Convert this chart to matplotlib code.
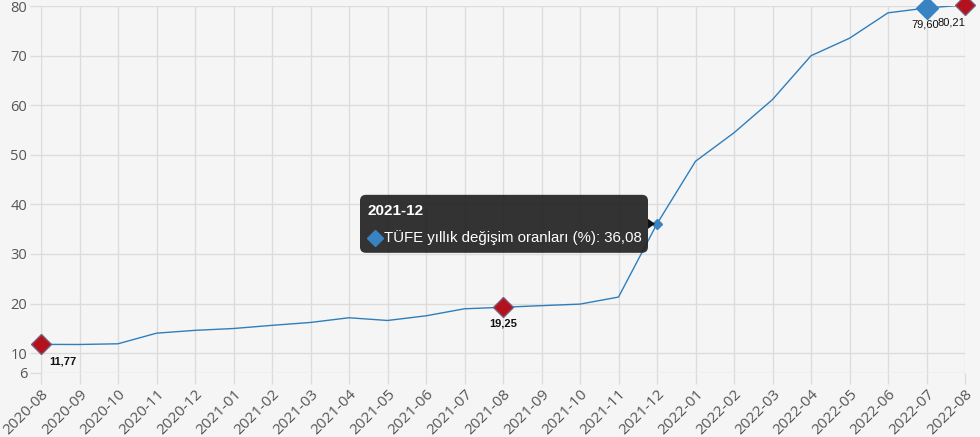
import matplotlib
matplotlib.use("Agg")
import matplotlib.pyplot as plt
import matplotlib.transforms as mtransforms
from matplotlib.patches import FancyBboxPatch, Polygon
import numpy as np

months = ["2020-08", "2020-09", "2020-10", "2020-11", "2020-12",
          "2021-01", "2021-02", "2021-03", "2021-04", "2021-05", "2021-06",
          "2021-07", "2021-08", "2021-09", "2021-10", "2021-11", "2021-12",
          "2022-01", "2022-02", "2022-03", "2022-04", "2022-05", "2022-06",
          "2022-07", "2022-08"]
tufe = [11.77, 11.75, 11.89, 14.03, 14.60, 14.97, 15.61, 16.19, 17.14, 16.59,
        17.53, 18.95, 19.25, 19.58, 19.89, 21.31, 36.08, 48.69, 54.44, 61.14,
        69.97, 73.50, 78.62, 79.60, 80.21]
yticks = [6, 10, 20, 30, 40, 50, 60, 70, 80]

# highlighted points: red = min/selected, blue = selected
red_idx = [0, 12, 24]
blue_idx = [23]
hover_idx = 16
series_name = "TÜFE yıllık değişim oranları (%)"

def fmt(v):
    return f"{v:.2f}".replace(".", ",")

bg = "#f5f5f5"
grid_c = "#dcdcdc"
line_c = "#2f7ebc"
red_c = "#b3111c"
blue_c = "#3a83c3"

fig = plt.figure(figsize=(9.8, 4.37), dpi=100, facecolor=bg)
ax = fig.add_axes([41 / 980, 64 / 437, 924 / 980, 367 / 437])
ax.set_facecolor(bg)

x = np.arange(len(months))
ax.plot(x, tufe, color=line_c, lw=1.0, zorder=3)

ax.set_xlim(0, len(months) - 1)
ax.set_ylim(6, 80)
ax.set_xticks(x)
ax.set_xticklabels(months, rotation=45, ha="right", rotation_mode="anchor",
                   fontsize=11, color="#555555", family="Open Sans")
ax.set_yticks(yticks)
ax.set_yticklabels([str(t) for t in yticks], fontsize=10.5, color="#555555",
                   family="Open Sans")
ax.grid(True, color=grid_c, lw=1)
ax.tick_params(axis="both", length=8, color=grid_c, width=1)
ax.tick_params(axis="x", pad=2)
ax.tick_params(axis="y", pad=2)
for s in ax.spines.values():
    s.set_visible(False)
ax.set_axisbelow(True)

# marked points
for i in red_idx:
    ax.plot(x[i], tufe[i], marker="D", ms=10, mfc=red_c, mec="#7d5a78",
            mew=1, zorder=5, clip_on=False)
for i in blue_idx:
    ax.plot(x[i], tufe[i], marker="D", ms=11.5, mfc=blue_c, mec=blue_c,
            mew=1, zorder=5, clip_on=False)
ax.plot(x[hover_idx], tufe[hover_idx], marker="D", ms=5.5, mfc=blue_c,
        mec=blue_c, zorder=6)

# data labels
lab = dict(textcoords="offset pixels", fontsize=8, family="Liberation Sans",
           color="#111111", va="center", zorder=7, annotation_clip=False)
ax.annotate(fmt(tufe[0]), (x[0], tufe[0]), xytext=(8, -17), ha="left",
            fontweight="bold", **lab)
ax.annotate(fmt(tufe[12]), (x[12], tufe[12]), xytext=(0, -16), ha="center",
            fontweight="bold", **lab)
ax.annotate(fmt(tufe[23]), (x[23], tufe[23]), xytext=(-1, -17), ha="center",
            **lab)
ax.annotate(fmt(tufe[24]), (x[24], tufe[24]), xytext=(0, -18), ha="right",
            **lab)

# tooltip, positioned in pixels relative to the hovered point
ptr = mtransforms.ScaledTranslation(x[hover_idx], tufe[hover_idx], ax.transData)
box = FancyBboxPatch((-292, -24), 278, 48,
                     boxstyle="round,pad=5,rounding_size=6",
                     fc="#222222", ec="none", alpha=0.92,
                     transform=ptr, zorder=8, clip_on=False)
ax.add_patch(box)
tri = Polygon([(-9, 5), (-2, 0), (-9, -5)], closed=True, fc="#111111",
              ec="none", transform=ptr, zorder=8, clip_on=False)
ax.add_patch(tri)
ax.text(-289, 13, months[hover_idx], transform=ptr, color="white",
        fontsize=11, fontweight="bold", family="Liberation Sans",
        va="center", ha="left", zorder=9)
ax.plot([-282], [-14], transform=ptr, marker="D", ms=8, mfc=blue_c,
        mec=blue_c, zorder=9, clip_on=False)
ax.text(-273, -14, f"{series_name}: {fmt(tufe[hover_idx])}", transform=ptr,
        color="white", fontsize=10.8, family="Liberation Sans",
        va="center", ha="left", zorder=9)

fig.savefig("out.png", dpi=100, facecolor=bg)
